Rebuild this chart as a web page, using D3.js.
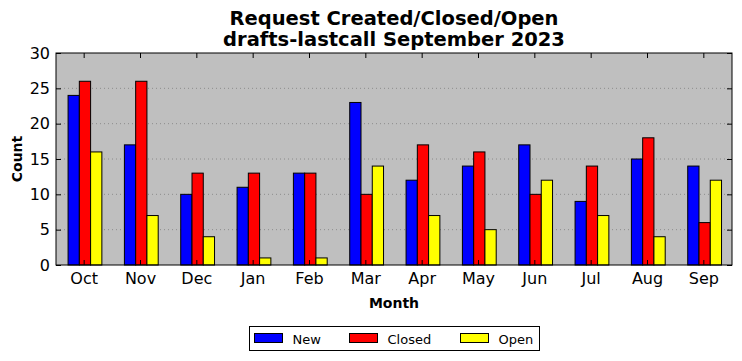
<!DOCTYPE html>
<html><head><meta charset="utf-8">
<script src="https://cdn.jsdelivr.net/npm/d3@7/dist/d3.min.js"></script>
<style>body{margin:0;background:#fff;}svg{display:block;font-family:"DejaVu Sans",sans-serif;}</style>
</head><body>
<script>
const months = ["Oct","Nov","Dec","Jan","Feb","Mar","Apr","May","Jun","Jul","Aug","Sep"];
const newVals = [24,17,10,11,13,23,12,14,17,9,15,14];
const closedVals = [26,26,13,13,13,10,17,16,10,14,18,6];
const openVals = [16,7,4,1,1,14,7,5,12,7,4,12];
const seriesNames = ["New","Closed","Open"];
const seriesColors = ["#0000ff","#ff0000","#ffff00"];
const yTicks = [0,5,10,15,20,25,30];
const titleLines = ["Request Created/Closed/Open","drafts-lastcall September 2023"];

const W=742,H=361;
const m={l:56,r:10,t:53,b:96};
const pw=W-m.l-m.r, ph=H-m.t-m.b;
const svg=d3.select("body").append("svg").attr("width",W).attr("height",H);
svg.append("rect").attr("width",W).attr("height",H).attr("fill","#fff");
const g=svg.append("g").attr("transform",`translate(${m.l},${m.t})`);

const x=d3.scaleBand().domain(months).range([0,pw]).padding(0);
const y=d3.scaleLinear().domain([0,30]).range([ph,0]);
const series=[newVals,closedVals,openVals];
const bw=x.step()*0.2;
const sub=d3.scaleBand().domain(seriesNames).range([0,bw*3]);

g.append("rect").attr("width",pw).attr("height",ph).attr("fill","#bfbfbf");
// grid
g.selectAll(".grid").data(yTicks.slice(1,-1)).join("line")
 .attr("x1",0).attr("x2",pw).attr("y1",d=>y(d)).attr("y2",d=>y(d))
 .attr("stroke","#7f7f7f").attr("stroke-width",0.8).attr("stroke-dasharray","1,3");

seriesNames.forEach((name,si)=>{
  g.append("g").selectAll("rect").data(series[si]).join("rect")
   .attr("x",(d,i)=>x(months[i])+x.step()/2-bw*1.5+sub(name)+0.8)
   .attr("y",d=>y(d)).attr("width",bw).attr("height",d=>y(0)-y(d))
   .attr("fill",seriesColors[si]).attr("stroke","#000").attr("stroke-width",1);
});

// axes with inward ticks
const tickFmt=d3.format("d");
const ax=[
 {a:d3.axisBottom(x).tickSize(-5).tickPadding(8),t:`translate(0,${ph})`,labels:true},
 {a:d3.axisTop(x).tickSize(-5).tickFormat(""),t:`translate(0,0)`},
 {a:d3.axisLeft(y).tickValues(yTicks).tickSize(-5).tickPadding(6).tickFormat(tickFmt),t:`translate(0,0)`,labels:true},
 {a:d3.axisRight(y).tickValues(yTicks).tickSize(-5).tickFormat(""),t:`translate(${pw},0)`}
];
ax.forEach(o=>{
  const gg=g.append("g").attr("transform",o.t).call(o.a);
  gg.select(".domain").remove();
  gg.selectAll("line").attr("stroke","#000");
  gg.selectAll("text").attr("font-size",16).attr("fill","#000").attr("font-family","DejaVu Sans");
});
g.append("rect").attr("width",pw).attr("height",ph).attr("fill","none").attr("stroke","#000").attr("stroke-width",1);

// titles
titleLines.forEach((t,i)=>{
  svg.append("text").attr("x",m.l+pw/2).attr("y",25+i*21).attr("text-anchor","middle")
   .attr("font-size",19.5).attr("font-weight","bold").text(t);
});
svg.append("text").attr("x",m.l+pw/2).attr("y",308).attr("text-anchor","middle")
 .attr("font-size",14).attr("font-weight","bold").text("Month");
svg.append("text").attr("transform",`translate(22,${m.t+ph/2}) rotate(-90)`).attr("text-anchor","middle")
 .attr("font-size",14).attr("font-weight","bold").text("Count");

// legend
const lg=svg.append("g").attr("transform","translate(249.5,326.5)");
lg.append("rect").attr("width",290).attr("height",24).attr("fill","#fff").attr("stroke","#000");
const lx=[5,100,211];
seriesNames.forEach((n,i)=>{
  lg.append("rect").attr("x",lx[i]).attr("y",7).attr("width",28).attr("height",9)
   .attr("fill",seriesColors[i]).attr("stroke","#000");
  lg.append("text").attr("x",lx[i]+38).attr("y",17).attr("font-size",13).text(n);
});
</script>
</body></html>
